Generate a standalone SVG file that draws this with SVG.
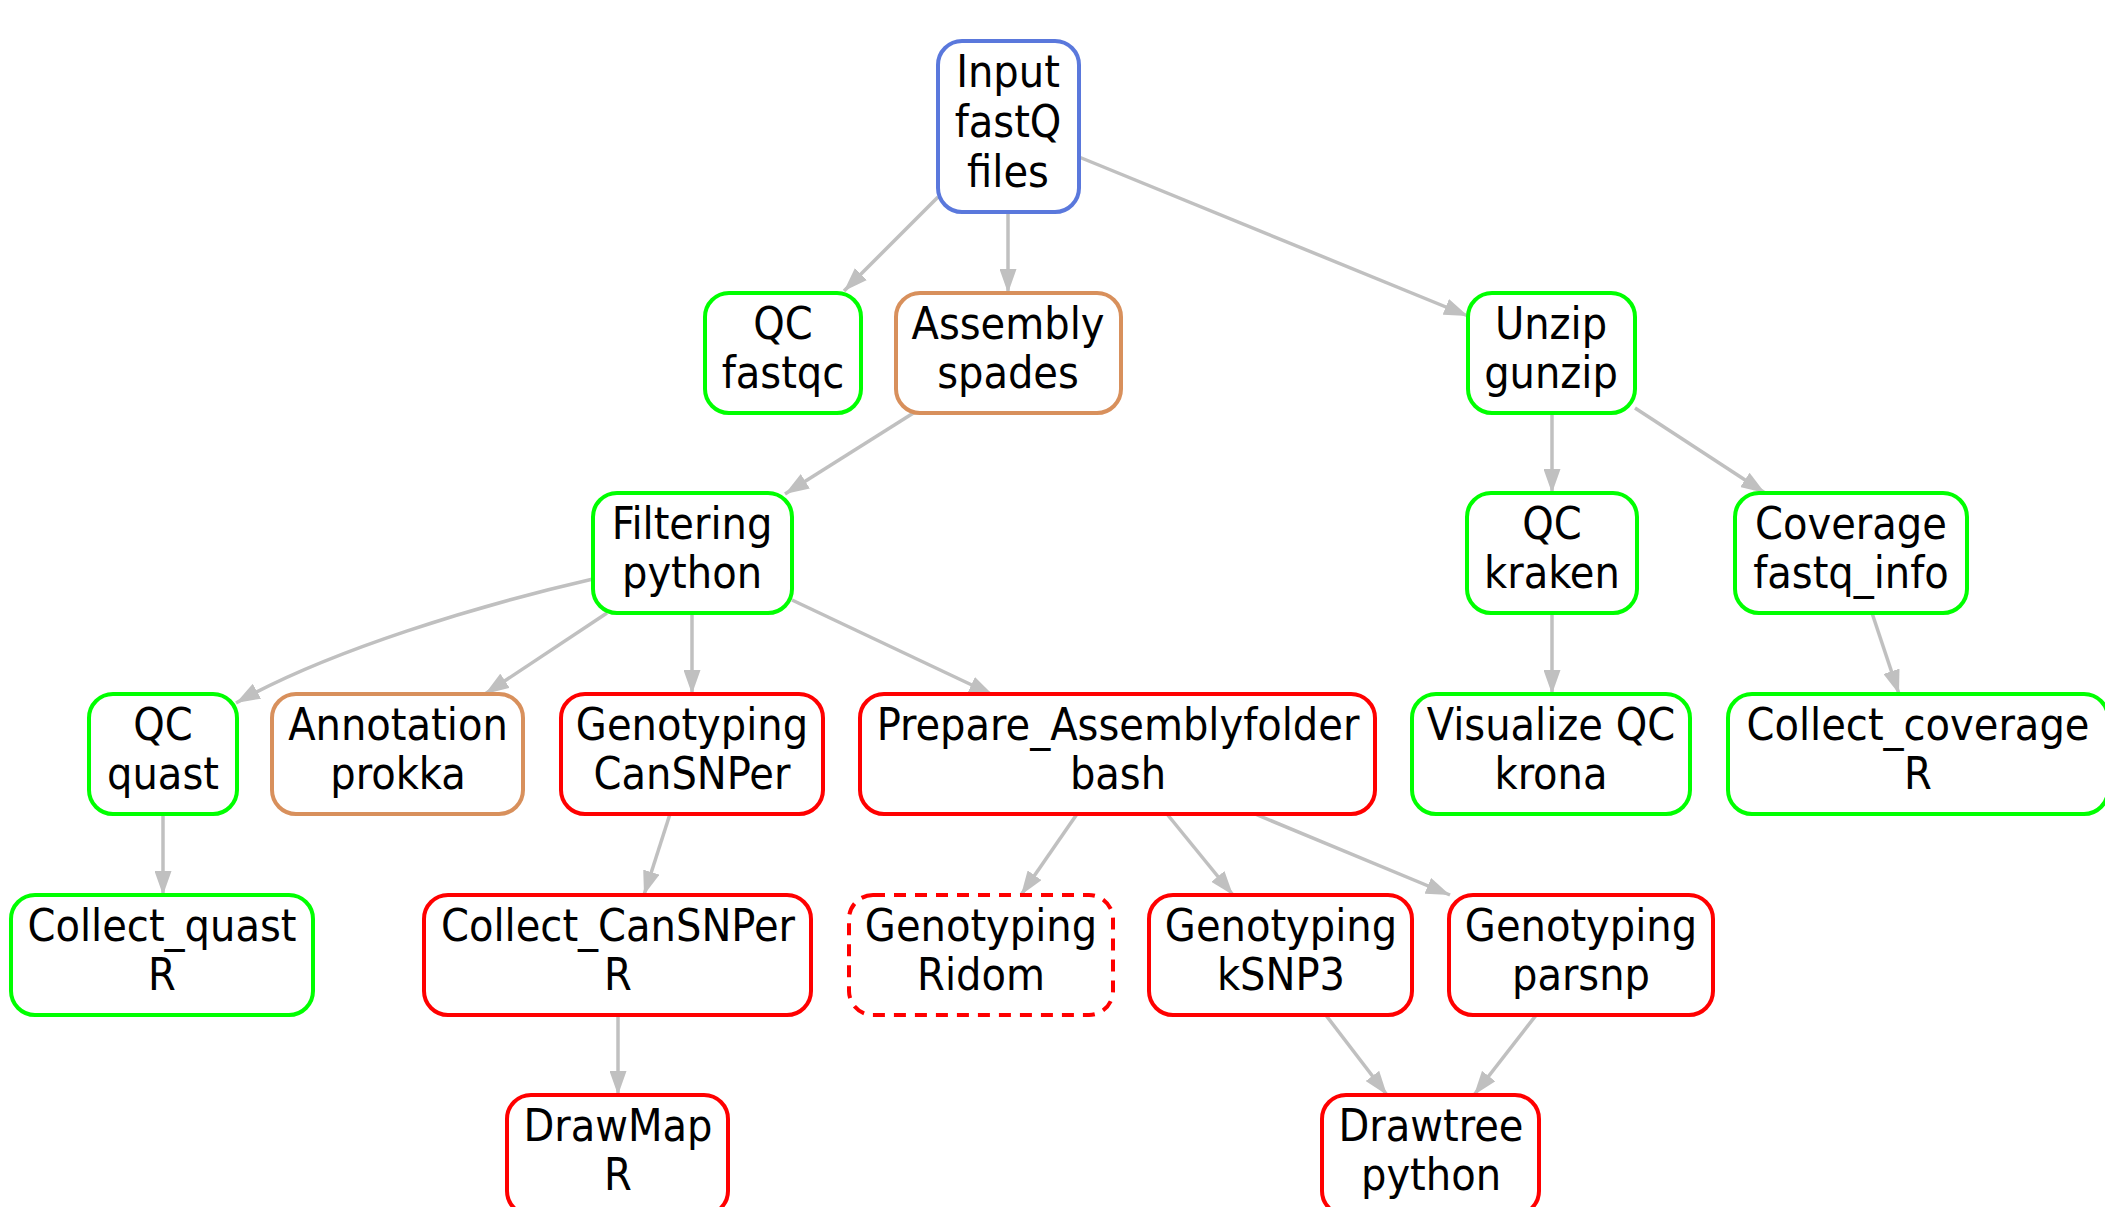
<svg xmlns="http://www.w3.org/2000/svg" width="2105" height="1207" viewBox="0 0 2105 1207">
<defs>
<marker id="ah" viewBox="0 0 24 17" refX="24" refY="8.5" markerWidth="24" markerHeight="17" markerUnits="userSpaceOnUse" orient="auto">
<path d="M0,0 L24,8.5 L0,17 z" fill="#c0c0c0"/>
</marker>
<style>
.n rect{fill:#fff;stroke-width:4}
.g rect{stroke:#00ff00}
.r rect{stroke:#ff0000}
.o rect{stroke:#d8905c}
.b rect{stroke:#5a78dc}
.d rect{stroke-dasharray:12,9}
.n text{font-family:'DejaVu Sans Condensed','DejaVu Sans',sans-serif;font-stretch:condensed;font-size:44.5px;fill:#000;text-anchor:middle}
#edges path{fill:none;stroke:#c0c0c0;stroke-width:3.5;marker-end:url(#ah)}
</style>
</defs>
<rect width="2105" height="1207" fill="#fff"/>
<g id="edges">
<path d="M938,197 L844,291"/>
<path d="M1008,212 L1008,293"/>
<path d="M1079,157 L1468,316"/>
<path d="M915,412 L785,494"/>
<path d="M1552,413 L1552,493"/>
<path d="M1635,408 L1765,493"/>
<path d="M593,579 C480,605 330,650 236,703"/>
<path d="M607,613 L485,694"/>
<path d="M692,613 L692,694"/>
<path d="M792,600 L993,695"/>
<path d="M1552,613 L1552,694"/>
<path d="M1872,613 L1899,694"/>
<path d="M163,814 L163,895"/>
<path d="M670,814 L644,895"/>
<path d="M1077,814 L1021,895"/>
<path d="M1167,814 L1233,895"/>
<path d="M1255,814 L1450,895"/>
<path d="M618,1014 L618,1095"/>
<path d="M1325,1014 L1387,1095"/>
<path d="M1537,1014 L1474,1095"/>
</g>
<g id="input" class="n b"><rect x="938" y="41" width="141" height="171" rx="24"/><text x="1008" y="87">Input</text><text x="1008" y="137">fastQ</text><text x="1008" y="187">files</text></g>
<g id="qc_fastqc" class="n g"><rect x="705" y="293" width="156" height="120" rx="24"/><text x="783" y="339">QC</text><text x="783" y="388">fastqc</text></g>
<g id="assembly" class="n o"><rect x="896" y="293" width="225" height="120" rx="24"/><text x="1008" y="339">Assembly</text><text x="1008" y="388">spades</text></g>
<g id="unzip" class="n g"><rect x="1468" y="293" width="167" height="120" rx="24"/><text x="1551" y="339">Unzip</text><text x="1551" y="388">gunzip</text></g>
<g id="filtering" class="n g"><rect x="593" y="493" width="199" height="120" rx="24"/><text x="692" y="539">Filtering</text><text x="692" y="588">python</text></g>
<g id="qc_kraken" class="n g"><rect x="1467" y="493" width="170" height="120" rx="24"/><text x="1552" y="539">QC</text><text x="1552" y="588">kraken</text></g>
<g id="coverage" class="n g"><rect x="1735" y="493" width="232" height="120" rx="24"/><text x="1851" y="539">Coverage</text><text x="1851" y="588">fastq_info</text></g>
<g id="qc_quast" class="n g"><rect x="89" y="694" width="148" height="120" rx="24"/><text x="163" y="740">QC</text><text x="163" y="789">quast</text></g>
<g id="annotation" class="n o"><rect x="272" y="694" width="251" height="120" rx="24"/><text x="398" y="740">Annotation</text><text x="398" y="789">prokka</text></g>
<g id="canSNPer" class="n r"><rect x="561" y="694" width="262" height="120" rx="24"/><text x="692" y="740">Genotyping</text><text x="692" y="789">CanSNPer</text></g>
<g id="prepare" class="n r"><rect x="860" y="694" width="515" height="120" rx="24"/><text x="1118" y="740">Prepare_Assemblyfolder</text><text x="1118" y="789">bash</text></g>
<g id="krona" class="n g"><rect x="1412" y="694" width="278" height="120" rx="24"/><text x="1551" y="740">Visualize QC</text><text x="1551" y="789">krona</text></g>
<g id="collect_coverage" class="n g"><rect x="1728" y="694" width="380" height="120" rx="24"/><text x="1918" y="740">Collect_coverage</text><text x="1918" y="789">R</text></g>
<g id="collect_quast" class="n g"><rect x="11" y="895" width="302" height="120" rx="24"/><text x="162" y="941">Collect_quast</text><text x="162" y="990">R</text></g>
<g id="collect_canSNPer" class="n r"><rect x="424" y="895" width="387" height="120" rx="24"/><text x="618" y="941">Collect_CanSNPer</text><text x="618" y="990">R</text></g>
<g id="ridom" class="n r d"><rect x="849" y="895" width="264" height="120" rx="24"/><text x="981" y="941">Genotyping</text><text x="981" y="990">Ridom</text></g>
<g id="ksnp3" class="n r"><rect x="1149" y="895" width="263" height="120" rx="24"/><text x="1281" y="941">Genotyping</text><text x="1281" y="990">kSNP3</text></g>
<g id="parsnp" class="n r"><rect x="1449" y="895" width="264" height="120" rx="24"/><text x="1581" y="941">Genotyping</text><text x="1581" y="990">parsnp</text></g>
<g id="drawmap" class="n r"><rect x="507" y="1095" width="221" height="120" rx="24"/><text x="618" y="1141">DrawMap</text><text x="618" y="1190">R</text></g>
<g id="drawtree" class="n r"><rect x="1322" y="1095" width="217" height="120" rx="24"/><text x="1431" y="1141">Drawtree</text><text x="1431" y="1190">python</text></g>
</svg>
